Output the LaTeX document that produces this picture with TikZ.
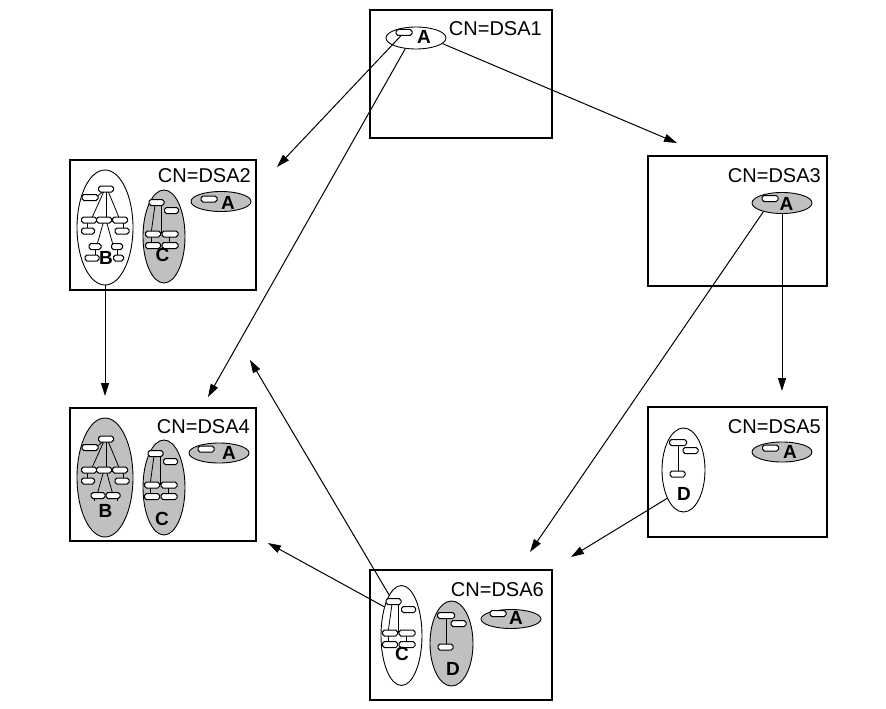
\documentclass[tikz,border=0pt]{standalone}
\usepackage{fontspec}
\setmainfont{Liberation Sans}
\usetikzlibrary{shapes.geometric,arrows.meta}
\definecolor{dsgray}{RGB}{192,192,192}

% one entry of a tree: centre x, centre y, width
\newcommand{\ent}[3]{\draw[rec] ({#1-#3/2},{#2-3}) rectangle ({#1+#3/2},{#2+3});}

% tree B (upper part)
\newcommand{\treeB}{
  \draw[twig] (-1,-36) -- (-9,-30);
  \draw[twig] (-1,-36) -- (-14,-7);
  \draw[twig] (1,-36) -- (1,-7);
  \draw[twig] (3,-36) -- (15,-7);
  \draw[twig] (-18,-7) -- (-18,4);
  \draw[twig] (18,-7) -- (18,4);
  \draw[twig] (-1,-7) -- (-8,18);
  \draw[twig] (1,-7) -- (8,18);
  \ent{1}{-38}{15}
  \ent{-15}{-29.5}{16}
  \ent{-16}{-7}{15} \ent{-1}{-7}{15} \ent{15}{-7}{15}
  \ent{-17}{4}{13} \ent{17}{4}{14}
}

% tree C
\newcommand{\treeC}{
  \draw[twig] (-9,-31) -- (-13,-2);
  \draw[twig] (-3,-31) -- (-3,-2);
  \draw[twig] (-13,-2) -- (-13,9.5);
  \draw[twig] (5,-2) -- (5,9.5);
  \ent{-7.5}{-33.5}{15} \ent{7.5}{-25.5}{14}
  \ent{-11}{-2}{15} \ent{6}{-2}{16}
  \ent{-11}{9.5}{15} \ent{6}{9.5}{16}
}

% tree D
\newcommand{\treeD}{
  \draw[twig] (-6,-27.5) -- (-6,4);
  \ent{-6}{-27.5}{17} \ent{6.5}{-19.5}{15} \ent{-6.5}{4}{15}
}

\begin{document}
\begin{tikzpicture}
  [x=1pt,y=-1pt,
   box/.style={draw,line width=1.5pt,inner sep=0},
   cn/.style={inner sep=0,font=\fontsize{20}{22}\selectfont},
   grp/.style={ellipse,draw,line width=0.9pt,fill=white,inner sep=0},
   grpgray/.style={fill=dsgray},
   rec/.style={draw,fill=white,rounded corners=1.8pt,line width=1pt,
     minimum width=16,minimum height=6,inner sep=0},
   twig/.style={line width=0.8pt},
   letter/.style={inner sep=0,font=\fontsize{19}{21}\selectfont\bfseries},
   flow/.style={line width=1pt,-{Triangle[length=13pt,width=8pt]}}]
  \useasboundingbox (0,0) rectangle (886,709);

  % directory servers
  \node[box,minimum width=182,minimum height=128] (dsa1) at (461,74) {};
  \node[box,minimum width=186,minimum height=130] (dsa2) at (163,225) {};
  \node[box,minimum width=179,minimum height=130] (dsa3) at (737.5,221) {};
  \node[box,minimum width=186,minimum height=133] (dsa4) at (163,474.5) {};
  \node[box,minimum width=179,minimum height=130] (dsa5) at (737.5,472) {};
  \node[box,minimum width=182,minimum height=130] (dsa6) at (461,635) {};

  \node[cn,anchor=east] (cn1) at (542,29) {CN=DSA1};
  \node[cn,anchor=east] (cn2) at (251,176) {CN=DSA2};
  \node[cn,anchor=east] (cn3) at (821,176) {CN=DSA3};
  \node[cn,anchor=east] (cn4) at (250,427) {CN=DSA4};
  \node[cn,anchor=east] (cn5) at (821,427) {CN=DSA5};
  \node[cn,anchor=east] (cn6) at (544,590) {CN=DSA6};

  % naming contexts A
  \node[grp,minimum width=60,minimum height=22] (a1) at (416,38) {};
  \node[grp,grpgray,minimum width=60,minimum height=20] (a2) at (221,201.5) {};
  \node[grp,grpgray,minimum width=60,minimum height=21] (a3) at (782,203) {};
  \node[grp,grpgray,minimum width=60,minimum height=20] (a4) at (219,453) {};
  \node[grp,grpgray,minimum width=60,minimum height=20] (a5) at (782,452) {};
  \node[grp,grpgray,minimum width=60,minimum height=19] (a6) at (511,619) {};

  \node[rec] (e1) at (404,32.5) {};
  \node[rec] (e2) at (209,199) {};
  \node[rec] (e3) at (770,198.5) {};
  \node[rec] (e4) at (206,449) {};
  \node[rec] (e5) at (770.5,448) {};
  \node[rec] (e6) at (498,613.5) {};

  \node[letter] (la1) at (424,37) {A};
  \node[letter] (la2) at (228,203) {A};
  \node[letter] (la3) at (786.5,203.5) {A};
  \node[letter] (la4) at (229,453) {A};
  \node[letter] (la5) at (790,452) {A};
  \node[letter] (la6) at (516,618) {A};

  % naming contexts B, C, D
  \node[grp,minimum width=56,minimum height=115] (b2) at (105,227.5) {};
  \node[grp,grpgray,minimum width=42,minimum height=93] (c2) at (164,236.5) {};
  \node[grp,grpgray,minimum width=56,minimum height=119] (b4) at (105,477.5) {};
  \node[grp,grpgray,minimum width=42,minimum height=95] (c4) at (164,487.5) {};
  \node[grp,minimum width=41,minimum height=100] (c6) at (401.5,635.5) {};
  \node[grp,grpgray,minimum width=43,minimum height=85] (d6) at (451.5,643.5) {};
  \node[grp,minimum width=43,minimum height=84] (d5) at (683.5,470) {};

  \begin{scope}[shift={(105,227)}]
    \treeB
    \draw[twig] (-10,19.5) -- (-10,31); \draw[twig] (12,19.5) -- (12,31);
    \ent{-10}{19.5}{12} \ent{12}{19.5}{11}
    \ent{-13}{31}{14} \ent{13.5}{31}{10}
  \end{scope}
  \begin{scope}[shift={(105,477)}]
    \treeB
    \draw[twig] (-11,21.2) -- (-11,24); \draw[twig] (12,21.2) -- (12,24);
    \ent{-7}{18.5}{14} \ent{8}{18.5}{14}
  \end{scope}
  \begin{scope}[shift={(164,236)}]
    \treeC
  \end{scope}
  \begin{scope}[shift={(163,487)}]
    \treeC
  \end{scope}
  \begin{scope}[shift={(401,635)}]
    \treeC
  \end{scope}
  \begin{scope}[shift={(452,643)}]
    \treeD
  \end{scope}
  \begin{scope}[shift={(684,470)}]
    \treeD
  \end{scope}

  \node[letter] (lb2) at (106,258) {B};
  \node[letter] (lc2) at (162.5,254.5) {C};
  \node[letter] (lb4) at (105.5,511) {B};
  \node[letter] (lc4) at (162,518.5) {C};
  \node[letter] (lc6) at (402,653.5) {C};
  \node[letter] (ld6) at (453,669) {D};
  \node[letter] (ld5) at (684,494) {D};

  % referrals
  \coordinate (t2) at (277,167);
  \coordinate (t4a) at (208,397);
  \coordinate (t3) at (677,143);
  \coordinate (t4b) at (105,396);
  \coordinate (t4c) at (250,360);
  \coordinate (t4d) at (268,543);
  \coordinate (t6a) at (530,552);
  \coordinate (t5) at (782,391);
  \coordinate (t6b) at (571,557);

  \draw[flow] (e1) -- (t2);
  \draw[flow] (a1.225) -- (t4a);
  \draw[flow] (a1.-12) -- (t3);
  \draw[flow] (b2.south) -- (t4b);
  \draw[flow] (a3.205) -- (t6a);
  \draw[flow] (a3.south) -- (t5);
  \draw[flow] (d5.240) -- (t6b);
  \draw[flow] (c6.107) -- (t4c);
  \draw[flow] (c6.121) -- (t4d);

\end{tikzpicture}
\end{document}
